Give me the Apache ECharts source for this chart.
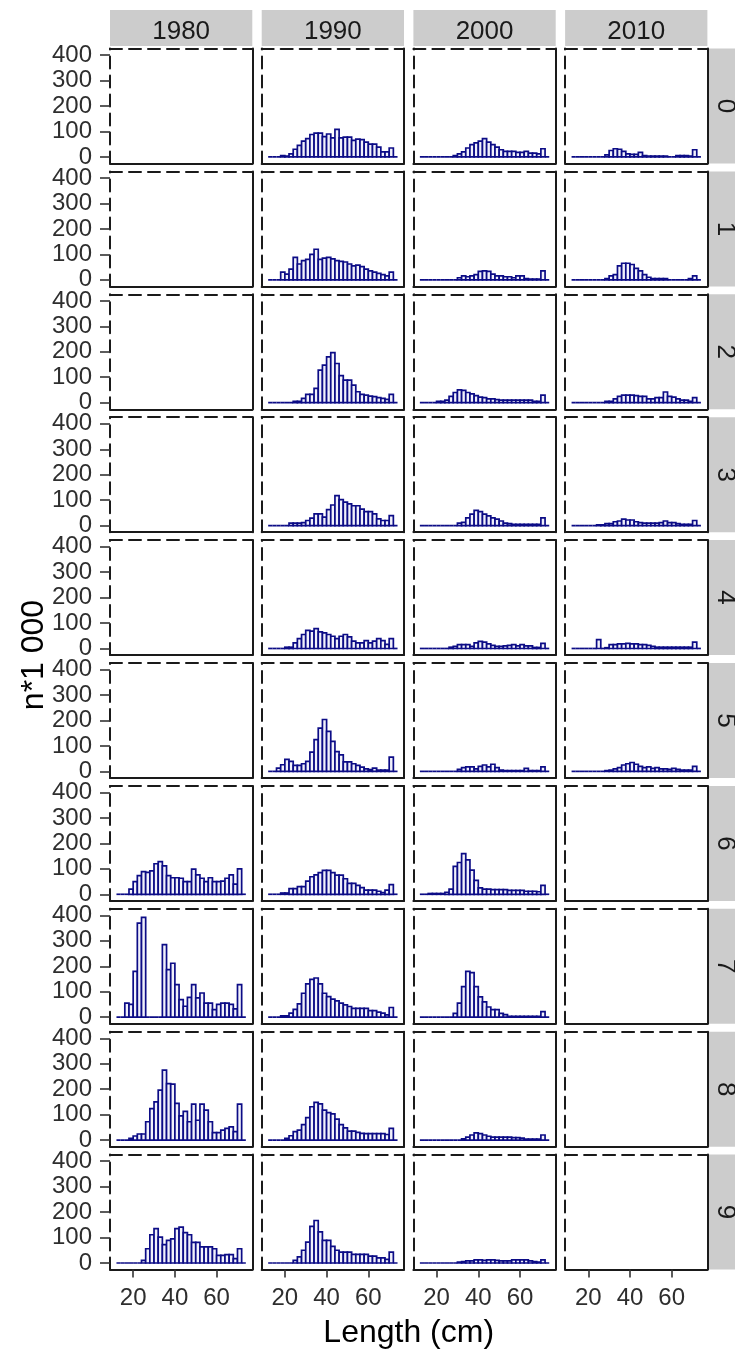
<!DOCTYPE html>
<html>
<head>
<meta charset="utf-8">
<script src="https://cdn.jsdelivr.net/npm/echarts@6/dist/echarts.min.js"></script>
<style>
  html, body { margin: 0; padding: 0; background: #ffffff; }
  #chart { width: 735px; height: 1356px; }
</style>
</head>
<body>
<div id="chart"></div>
<script>
// Facet labels
const years = ['1980', '1990', '2000', '2010'];
const ages = ['0', '1', '2', '3', '4', '5', '6', '7', '8', '9'];

// Length bins (cm): edges of the 2 cm classes
const binEdges = [12, 14, 16, 18, 20, 22, 24, 26, 28, 30, 32, 34, 36, 38, 40, 42,
                  44, 46, 48, 50, 52, 54, 56, 58, 60, 62, 64, 66, 68, 70, 72, 74];

// Axis ticks
const xTicks = [20, 40, 60];
const yTicks = [0, 100, 200, 300, 400];

// Numbers (n*1 000) per length class, one array per year and age
const n1980_a6 = [0,0,0,20,50,73,89,86,92,120,128,112,73,65,65,63,50,50,99,76,63,50,65,50,50,52,63,76,40,100,0];
const n1980_a7 = [0,0,55,50,180,370,392,0,0,0,0,285,187,212,128,69,43,78,128,76,95,55,55,30,50,55,55,50,33,128,0];
const n1980_a8 = [0,0,0,7,16,24,24,72,124,150,196,275,222,220,144,95,113,72,141,78,141,118,72,29,29,39,46,52,33,141,0];
const n1980_a9 = [0,0,0,0,0,0,10,56,111,135,102,72,89,95,135,141,119,111,81,81,63,63,63,56,30,30,33,33,17,56,0];

const n1990_a0 = [0,0,0,5,3,12,30,45,62,72,88,93,93,80,90,75,108,75,78,78,65,70,68,58,50,50,38,20,20,35,0];
const n1990_a1 = [0,0,0,30,22,42,88,62,75,80,100,120,80,85,88,82,75,72,70,62,55,58,52,42,35,30,25,20,15,30,0];
const n1990_a2 = [0,0,0,0,0,0,5,5,17,33,33,56,128,148,180,197,154,106,89,89,69,43,33,30,26,24,20,17,13,33,0];
const n1990_a3 = [0,0,0,0,0,10,10,10,12,20,29,46,46,33,63,81,118,102,92,85,78,78,65,55,55,46,26,20,20,39,0];
const n1990_a4 = [0,0,0,0,5,5,22,39,55,71,68,78,65,61,55,48,39,48,55,46,29,22,22,31,22,29,39,31,16,39,0];
const n1990_a5 = [0,0,13,26,47,39,24,24,30,39,76,125,170,204,157,118,78,65,37,37,30,24,17,10,7,13,5,5,5,56,0];
const n1990_a6 = [0,0,0,5,5,22,22,30,30,52,69,76,85,94,94,85,75,75,61,43,43,35,26,16,16,16,12,7,16,38,0];
const n1990_a7 = [0,0,0,5,5,16,31,52,94,131,149,154,131,94,81,71,64,55,48,42,35,35,35,35,26,26,20,16,9,38,0];
const n1990_a8 = [0,0,0,0,7,17,33,39,61,88,131,148,142,118,108,103,82,61,48,35,35,30,26,25,25,25,25,25,22,46,0];
const n1990_a9 = [0,0,0,0,0,0,10,24,50,82,144,167,122,89,89,65,50,43,43,43,34,34,34,34,27,27,20,20,14,43,0];

const n2000_a0 = [0,0,0,0,0,0,0,0,5,12,20,35,48,55,62,72,58,48,38,28,22,22,22,18,18,22,15,15,12,32,0];
const n2000_a1 = [0,0,0,0,0,0,0,0,0,8,15,12,15,20,33,35,33,22,15,15,12,12,8,15,15,5,3,3,3,35,0];
const n2000_a2 = [0,0,0,0,5,5,10,25,40,50,48,40,35,28,22,20,15,15,12,10,10,10,10,10,10,10,10,5,5,30,0];
const n2000_a3 = [0,0,0,0,0,0,0,0,0,10,13,30,45,60,55,45,38,30,25,18,10,8,5,5,5,5,5,5,5,30,0];
const n2000_a4 = [0,0,0,0,0,0,0,5,8,15,15,15,8,22,28,25,18,12,8,8,10,12,15,10,15,10,10,4,4,20,0];
const n2000_a5 = [0,0,0,0,0,0,0,0,0,8,15,18,18,10,20,25,18,28,15,5,3,3,3,3,3,12,3,3,3,18,0];
const n2000_a6 = [0,0,3,3,3,3,8,20,110,125,160,135,95,55,25,20,20,18,18,18,18,15,15,15,15,12,12,12,10,35,0];
const n2000_a7 = [0,0,0,0,0,0,0,0,15,55,120,180,175,120,80,60,40,30,30,15,10,3,3,3,3,3,3,3,3,22,0];
const n2000_a8 = [0,0,0,0,0,0,0,0,0,0,5,12,20,28,25,20,15,12,12,12,12,12,10,10,8,4,4,4,4,20,0];
const n2000_a9 = [0,0,0,0,0,0,0,0,0,3,5,8,8,12,12,10,12,12,10,8,8,8,12,12,12,12,8,5,3,12,0];

const n2010_a0 = [0,0,0,0,0,0,0,0,8,25,32,30,22,12,10,10,18,5,3,3,3,3,3,0,0,5,5,5,3,28,0];
const n2010_a1 = [0,0,0,0,0,0,0,0,5,15,20,55,65,65,60,45,35,20,10,5,5,5,5,0,0,0,0,0,5,15,0];
const n2010_a2 = [0,0,0,0,0,0,0,0,5,5,15,25,30,30,30,28,25,25,15,15,20,20,42,25,22,15,10,10,5,20,0];
const n2010_a3 = [0,0,0,0,0,0,3,3,8,8,15,18,25,22,22,15,12,10,10,10,10,12,18,12,12,8,5,5,5,20,0];
const n2010_a4 = [0,0,0,0,0,0,35,0,3,15,15,18,18,20,18,18,15,15,12,8,5,5,5,5,5,5,5,5,5,25,0];
const n2010_a5 = [0,0,0,0,0,0,0,0,3,5,10,15,25,30,35,28,20,15,18,12,15,10,10,8,12,8,5,5,5,20,0];

// Panels by year (columns) and age (rows); null = no sampling
const panelData = {
  '1980': [null, null, null, null, null, null, n1980_a6, n1980_a7, n1980_a8, n1980_a9],
  '1990': [n1990_a0, n1990_a1, n1990_a2, n1990_a3, n1990_a4, n1990_a5, n1990_a6, n1990_a7, n1990_a8, n1990_a9],
  '2000': [n2000_a0, n2000_a1, n2000_a2, n2000_a3, n2000_a4, n2000_a5, n2000_a6, n2000_a7, n2000_a8, n2000_a9],
  '2010': [n2010_a0, n2010_a1, n2010_a2, n2010_a3, n2010_a4, n2010_a5, null, null, null, null]
};

// ---- layout of the facet grid (px) ----
const colLeft = [110, 261.7, 413.4, 565.1];
const panelW = 142.3;
const rowTop0 = 48.5;
const rowStep = 122.9;
const panelH = 115;
const stripTop = 10;
const stripH = 36;
const sideStripW = 35;

const X_MIN = 8.9, X_MAX = 77.1;
const Y_MIN = -26, Y_MAX = 426;

const FONT = '"Liberation Sans", Arial, Helvetica, sans-serif';
const BAR_LINE = '#0c0c86';
const BAR_FILL = '#f1f1fb';
const FRAME = '#1a1a1a';
const TICK_TEXT = '#2e2e2e';
const DASH = [12, 7];

function renderBin(params, api) {
  const lo = api.value(0), hi = api.value(1), v = api.value(2);
  const pTop = api.coord([lo, v]);
  const pBase = api.coord([hi, 0]);
  if (v === 0) {
    return {
      type: 'line',
      shape: { x1: pTop[0], y1: pBase[1], x2: pBase[0], y2: pBase[1] },
      style: { stroke: BAR_LINE, lineWidth: 1.7 }
    };
  }
  return {
    type: 'rect',
    shape: { x: pTop[0], y: pTop[1], width: pBase[0] - pTop[0], height: pBase[1] - pTop[1] },
    style: { fill: BAR_FILL, stroke: BAR_LINE, lineWidth: 1.7 }
  };
}

const grid = [], xAxis = [], yAxis = [], series = [], graphic = [];

years.forEach((yr, c) => {
  // year strip on top
  graphic.push({
    type: 'rect', shape: { x: colLeft[c], y: stripTop, width: panelW, height: stripH },
    style: { fill: '#cccccc' }, silent: true
  });
  graphic.push({
    type: 'text', x: colLeft[c] + panelW / 2, y: stripTop + stripH / 2 + 4,
    style: { text: yr, font: '26px ' + FONT, fill: '#1a1a1a', align: 'center', verticalAlign: 'middle' }
  });

  ages.forEach((age, r) => {
    const gi = grid.length;
    const top = rowTop0 + r * rowStep;
    grid.push({ left: colLeft[c], top: top, width: panelW, height: panelH, containLabel: false });

    const bottomRow = r === ages.length - 1;
    const firstCol = c === 0;

    // bottom (solid) and top (dashed) frame lines
    xAxis.push({
      gridIndex: gi, type: 'value', min: X_MIN, max: X_MAX, position: 'bottom',
      axisLine: { show: true, onZero: false, lineStyle: { color: FRAME, width: 2 } },
      axisTick: { show: bottomRow, customValues: xTicks, length: 8, lineStyle: { color: '#333333', width: 1.6 } },
      axisLabel: { show: bottomRow, customValues: xTicks, fontSize: 24, fontFamily: FONT, color: TICK_TEXT, margin: 17 },
      splitLine: { show: false }
    });
    xAxis.push({
      gridIndex: gi, type: 'value', min: X_MIN, max: X_MAX, position: 'top',
      axisLine: { show: true, onZero: false, lineStyle: { color: FRAME, width: 2, type: DASH } },
      axisTick: { show: false }, axisLabel: { show: false }, splitLine: { show: false }
    });
    // left (dashed) and right (solid) frame lines
    yAxis.push({
      gridIndex: gi, type: 'value', min: Y_MIN, max: Y_MAX, position: 'left',
      axisLine: { show: true, onZero: false, lineStyle: { color: FRAME, width: 2, type: DASH } },
      axisTick: { show: firstCol, customValues: yTicks, length: 10, lineStyle: { color: '#333333', width: 1.6 } },
      axisLabel: { show: firstCol, customValues: yTicks, fontSize: 24, fontFamily: FONT, color: TICK_TEXT, margin: 18 },
      splitLine: { show: false }
    });
    yAxis.push({
      gridIndex: gi, type: 'value', min: Y_MIN, max: Y_MAX, position: 'right',
      axisLine: { show: true, onZero: false, lineStyle: { color: FRAME, width: 2 } },
      axisTick: { show: false }, axisLabel: { show: false }, splitLine: { show: false }
    });

    const vals = panelData[yr][r];
    if (vals) {
      series.push({
        type: 'custom', xAxisIndex: gi * 2, yAxisIndex: gi * 2, clip: true,
        renderItem: renderBin, silent: true, animation: false,
        data: vals.map((v, i) => [binEdges[i], binEdges[i + 1], v])
      });
    }

    // age strip on the right (last column only)
    if (c === years.length - 1) {
      graphic.push({
        type: 'rect', shape: { x: colLeft[c] + panelW + 0.5, y: top, width: sideStripW, height: panelH },
        style: { fill: '#cccccc' }, silent: true
      });
      graphic.push({
        type: 'text', x: colLeft[c] + panelW + 0.5 + sideStripW / 2, y: top + panelH / 2,
        rotation: -Math.PI / 2,
        style: { text: age, font: '26px ' + FONT, fill: '#1a1a1a', align: 'center', verticalAlign: 'middle' }
      });
    }
  });
});

// axis titles
const panelsLeft = colLeft[0];
const panelsRight = colLeft[3] + panelW;
graphic.push({
  type: 'text', x: (panelsLeft + panelsRight) / 2, y: 1333,
  style: { text: 'Length (cm)', font: '32px ' + FONT, fill: '#000000', align: 'center', verticalAlign: 'middle' }
});
graphic.push({
  type: 'text', x: 34, y: 655, rotation: Math.PI / 2,
  style: { text: 'n*1 000', font: '32px ' + FONT, fill: '#000000', align: 'center', verticalAlign: 'middle' }
});

const chart = echarts.init(document.getElementById('chart'), null, { renderer: 'canvas' });
chart.setOption({
  animation: false,
  backgroundColor: '#ffffff',
  grid: grid, xAxis: xAxis, yAxis: yAxis, series: series, graphic: graphic
});
</script>
</body>
</html>
